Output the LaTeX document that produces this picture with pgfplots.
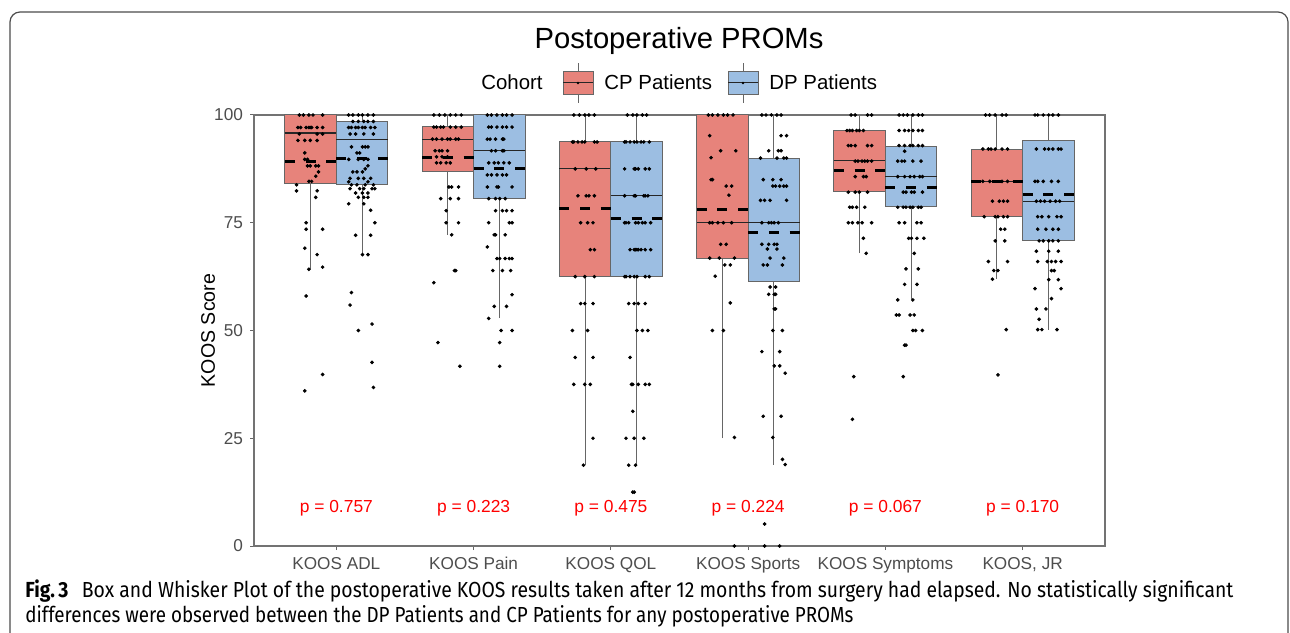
\documentclass[border=0pt]{standalone}
\usepackage{pgfplots}
\pgfplotsset{compat=1.18}
\usepgfplotslibrary{statistics}
\usepackage{fontspec}
\setmainfont{Liberation Sans}
\newfontfamily\capfont{Fira Sans}
\definecolor{cpcol}{RGB}{231,131,123}
\definecolor{dpcol}{RGB}{156,190,226}
\definecolor{tickgray}{RGB}{77,77,77}
\pgfplotsset{
  bx/.style n args={6}{boxplot prepared={draw position=#1, lower whisker=#2,
     lower quartile=#3, median=#4, upper quartile=#5, upper whisker=#6,
     box extend=0.375, whisker extend=0,
     every median/.style={draw=black!85, line width=0.6pt}}},
  meanline/.style={black, line width=1.5pt, dash pattern=on 5pt off 5.35pt, forget plot},
  dots/.style={only marks, mark=*, mark size=0.7pt, black, forget plot},
}
\begin{document}
\begin{tikzpicture}
\useasboundingbox (0,0) rectangle (645pt,316pt);
\draw[black!70, line width=0.6pt, rounded corners=5pt] (5pt,-10pt) rectangle (644pt,310pt);
% title
\node[anchor=base, inner sep=0] at (339.5pt,291.5pt) {\fontsize{14.6}{16}\selectfont Postoperative PROMs};
% legend
\node[anchor=base west, inner sep=0] at (240.5pt,271pt) {\fontsize{10.2}{12}\selectfont Cohort};
\draw[black!60, line width=0.5pt] (289pt,264.5pt) -- (289pt,284.5pt);
\draw[black!60, line width=0.5pt, fill=cpcol] (281.5pt,268.5pt) rectangle (296.5pt,280pt);
\draw[black!85, line width=0.5pt] (281.5pt,274.5pt) -- (296.5pt,274.5pt);
\fill (289pt,274.5pt) circle (0.7pt);
\node[anchor=base west, inner sep=0] at (302pt,271pt) {\fontsize{10.2}{12}\selectfont CP Patients};
\draw[black!60, line width=0.5pt] (371.5pt,264.5pt) -- (371.5pt,284.5pt);
\draw[black!60, line width=0.5pt, fill=dpcol] (364pt,268.5pt) rectangle (379pt,280pt);
\draw[black!85, line width=0.5pt] (364pt,274.5pt) -- (379pt,274.5pt);
\fill (371.5pt,274.5pt) circle (0.7pt);
\node[anchor=base west, inner sep=0] at (384.5pt,271pt) {\fontsize{10.2}{12}\selectfont DP Patients};
% caption
\node[anchor=base west, inner sep=0] at (12.5pt,17.5pt) {\resizebox{604pt}{\height}{\capfont\fontsize{10.9}{13}\selectfont\textbf{Fig.\,3}\hspace{0.7em}Box and Whisker Plot of the postoperative KOOS results taken after 12 months from surgery had elapsed. No statistically significant}};
\node[anchor=base west, inner sep=0] at (12.5pt,5pt) {\resizebox{414pt}{\height}{\capfont\fontsize{10.9}{13}\selectfont differences were observed between the DP Patients and CP Patients for any postoperative PROMs}};

\begin{axis}[
  at={(127pt,43pt)}, anchor=south west, scale only axis,
  width=425.5pt, height=215.5pt,
  xmin=0.4, xmax=6.6, ymin=0, ymax=100, clip=false,
  boxplot/draw direction=y,
  xtick={1,2,3,4,5,6},
  xticklabels={KOOS ADL, KOOS Pain, KOOS QOL, KOOS Sports, KOOS Symptoms, {KOOS, JR}},
  ytick={0,25,50,75,100},
  tick align=outside, tick pos=left, major tick length=2pt,
  tick style={black!60, line width=0.5pt},
  axis line style={black!55, line width=0.6pt},
  ticklabel style={font=\fontsize{8.6}{10}\selectfont, text=tickgray},
  /pgf/number format/assume math mode=true,
  ylabel={KOOS Score},
  ylabel style={font=\fontsize{9.8}{11}\selectfont, at={(axis description cs:-0.054,0.5)}, anchor=center},
]
% boxes
\addplot[fill=cpcol, draw=black!60, line width=0.5pt, bx={0.8125}{64.2}{84.0}{95.8}{100}{100}] coordinates {};
\addplot[fill=dpcol, draw=black!60, line width=0.5pt, bx={1.1875}{67.7}{83.8}{94.3}{98.5}{100}] coordinates {};
\addplot[fill=cpcol, draw=black!60, line width=0.5pt, bx={1.8125}{72.2}{86.9}{94.4}{97.3}{100}] coordinates {};
\addplot[fill=dpcol, draw=black!60, line width=0.5pt, bx={2.1875}{52.8}{80.6}{91.7}{100}{100}] coordinates {};
\addplot[fill=cpcol, draw=black!60, line width=0.5pt, bx={2.8125}{18.75}{62.5}{87.5}{93.75}{100}] coordinates {};
\addplot[fill=dpcol, draw=black!60, line width=0.5pt, bx={3.1875}{18.75}{62.5}{81.25}{93.75}{100}] coordinates {};
\addplot[fill=cpcol, draw=black!60, line width=0.5pt, bx={3.8125}{25}{66.8}{75}{100}{100}] coordinates {};
\addplot[fill=dpcol, draw=black!60, line width=0.5pt, bx={4.1875}{18.9}{61.4}{75}{90}{100}] coordinates {};
\addplot[fill=cpcol, draw=black!60, line width=0.5pt, bx={4.8125}{67.9}{82.2}{89.4}{96.4}{100}] coordinates {};
\addplot[fill=dpcol, draw=black!60, line width=0.5pt, bx={5.1875}{57.2}{78.7}{85.8}{92.8}{100}] coordinates {};
\addplot[fill=cpcol, draw=black!60, line width=0.5pt, bx={5.8125}{61.9}{76.4}{84.6}{92.1}{100}] coordinates {};
\addplot[fill=dpcol, draw=black!60, line width=0.5pt, bx={6.1875}{50.2}{70.8}{80.0}{94.0}{100}] coordinates {};
% means
\addplot[meanline] coordinates {(0.625,89.2) (1.0,89.2)};
\addplot[meanline] coordinates {(1.0,89.8) (1.375,89.8)};
\addplot[meanline] coordinates {(1.625,90.1) (2.0,90.1)};
\addplot[meanline] coordinates {(2.0,87.6) (2.375,87.6)};
\addplot[meanline] coordinates {(2.625,78.3) (3.0,78.3)};
\addplot[meanline] coordinates {(3.0,75.9) (3.375,75.9)};
\addplot[meanline] coordinates {(3.625,78.0) (4.0,78.0)};
\addplot[meanline] coordinates {(4.0,72.7) (4.375,72.7)};
\addplot[meanline] coordinates {(4.625,87.1) (5.0,87.1)};
\addplot[meanline] coordinates {(5.0,83.2) (5.375,83.2)};
\addplot[meanline] coordinates {(5.625,84.6) (6.0,84.6)};
\addplot[meanline] coordinates {(6.0,81.6) (6.375,81.6)};
% ADL CP
\addplot[dots] table {
x y
0.73 100
0.76 100
0.80 100
0.83 100
0.90 100
0.72 97.1
0.74 97.1
0.78 97.1
0.80 97.1
0.81 97.1
0.82 97.1
0.86 97.1
0.90 97.1
0.73 95.6
0.86 95.6
0.90 95.6
0.72 94.1
0.77 94.1
0.81 94.1
0.86 94.1
0.77 91.2
0.77 89.7
0.79 89.7
0.79 88.2
0.81 88.2
0.85 88.2
0.87 88.2
0.87 86.8
0.85 85.8
0.80 84.6
0.82 84.6
0.71 83.8
0.71 82.4
0.86 82.4
0.85 80.9
0.78 75.0
0.78 73.5
0.90 73.5
0.77 69.1
0.86 67.6
0.90 64.7
0.80 64.2
0.78 58.0
0.90 39.8
0.77 36.0
};
% ADL DP
\addplot[dots] table {
x y
1.09 100
1.12 100
1.16 100
1.19 100
1.23 100
1.27 100
1.12 98.5
1.16 98.5
1.20 98.5
1.23 98.5
1.27 98.5
1.09 97.1
1.11 97.1
1.14 97.1
1.16 97.1
1.19 97.1
1.21 97.1
1.25 97.1
1.28 97.1
1.10 95.6
1.14 95.6
1.20 95.6
1.27 95.6
1.11 92.6
1.19 92.6
1.21 92.6
1.23 92.6
1.15 91.2
1.17 91.2
1.09 89.7
1.16 89.7
1.20 89.7
1.23 89.7
1.23 88.2
1.21 87.5
1.12 86.8
1.15 86.8
1.19 86.8
1.10 85.3
1.16 85.3
1.20 85.3
1.25 85.3
1.09 84.5
1.23 84.5
1.11 83.8
1.15 83.8
1.21 83.8
1.27 83.8
1.10 82.9
1.17 82.9
1.20 82.9
1.26 82.9
1.28 82.9
1.14 81.9
1.19 81.9
1.23 81.9
1.16 80.9
1.20 80.9
1.23 80.9
1.09 79.4
1.20 79.4
1.25 77.9
1.28 75.0
1.14 72.1
1.25 72.1
1.19 67.6
1.23 67.6
1.11 58.8
1.10 55.9
1.26 51.5
1.16 50.0
1.26 42.6
1.27 36.8
};
% Pain CP
\addplot[dots] table {
x y
1.71 100
1.75 100
1.79 100
1.83 100
1.87 100
1.91 100
1.71 97.2
1.73 97.2
1.76 97.2
1.78 97.2
1.83 97.2
1.87 97.2
1.91 97.2
1.70 94.4
1.73 94.4
1.77 94.4
1.81 94.4
1.83 94.4
1.87 94.4
1.89 94.4
1.72 91.7
1.75 91.7
1.77 91.7
1.81 91.7
1.73 90.3
1.77 90.3
1.81 90.3
1.73 88.9
1.76 88.9
1.80 88.9
1.83 88.9
1.82 83.3
1.84 83.3
1.89 83.3
1.76 80.6
1.83 80.6
1.89 80.6
1.80 77.8
1.80 75.0
1.89 75.0
1.84 72.2
1.86 63.9
1.87 63.9
1.71 61.1
1.74 47.2
1.90 41.7
};
% Pain DP
\addplot[dots] table {
x y
2.10 100
2.13 100
2.17 100
2.21 100
2.24 100
2.28 100
2.11 97.2
2.13 97.2
2.17 97.2
2.21 97.2
2.24 97.2
2.28 97.2
2.10 94.4
2.12 94.4
2.16 94.4
2.21 94.4
2.22 94.4
2.13 91.7
2.16 91.7
2.21 91.7
2.22 91.7
2.11 88.9
2.15 88.9
2.18 88.9
2.22 88.9
2.26 88.9
2.10 86.1
2.13 86.1
2.17 86.1
2.21 86.1
2.24 86.1
2.10 83.3
2.17 83.3
2.18 83.3
2.28 83.3
2.11 80.6
2.16 80.6
2.19 80.6
2.23 80.6
2.16 77.8
2.21 77.8
2.24 77.8
2.28 77.8
2.11 75.0
2.26 75.0
2.28 75.0
2.15 72.2
2.16 72.2
2.23 72.2
2.10 69.4
2.17 66.7
2.19 66.7
2.23 66.7
2.26 66.7
2.28 66.7
2.14 63.9
2.21 63.9
2.27 63.9
2.28 58.3
2.15 55.6
2.24 55.6
2.11 52.8
2.20 50.0
2.28 50.0
2.19 47.2
2.19 41.7
};
% QOL CP
\addplot[dots] table {
x y
2.73 100
2.77 100
2.81 100
2.84 100
2.88 100
2.72 93.75
2.73 93.75
2.76 93.75
2.79 93.75
2.81 93.75
2.88 93.75
2.90 93.75
2.74 87.5
2.82 87.5
2.89 87.5
2.76 81.25
2.82 81.25
2.84 81.25
2.88 81.25
2.78 75
2.83 75
2.87 75
2.85 68.75
2.88 68.75
2.74 62.5
2.81 62.5
2.88 62.5
2.78 56.25
2.81 56.25
2.87 56.25
2.72 50
2.83 50
2.74 43.75
2.87 43.75
2.73 37.5
2.81 37.5
2.85 37.5
2.87 25
2.80 18.75
};
% QOL DP
\addplot[dots] table {
x y
3.12 100
3.16 100
3.19 100
3.23 100
3.26 100
3.10 93.75
3.11 93.75
3.14 93.75
3.17 93.75
3.19 93.75
3.22 93.75
3.24 93.75
3.28 93.75
3.10 87.5
3.17 87.5
3.18 87.5
3.20 87.5
3.25 87.5
3.28 87.5
3.10 81.25
3.17 81.25
3.18 81.25
3.24 81.25
3.25 81.25
3.27 81.25
3.10 75
3.11 75
3.13 75
3.18 75
3.20 75
3.23 75
3.25 75
3.29 75
3.14 68.75
3.17 68.75
3.18 68.75
3.19 68.75
3.20 68.75
3.22 68.75
3.25 68.75
3.29 68.75
3.10 62.5
3.11 62.5
3.14 62.5
3.17 62.5
3.19 62.5
3.25 62.5
3.28 62.5
3.13 56.25
3.17 56.25
3.20 56.25
3.25 56.25
3.19 50
3.23 50
3.27 50
3.14 43.75
3.15 37.5
3.16 37.5
3.20 37.5
3.25 37.5
3.28 37.5
3.16 31.25
3.11 25
3.17 25
3.24 25
3.13 18.75
3.18 18.75
3.16 12.5
3.17 12.5
};
% Sports CP
\addplot[dots] table {
x y
3.71 100
3.74 100
3.78 100
3.82 100
3.85 100
3.89 100
3.72 95.2
3.80 91.7
3.91 91.7
3.73 90.1
3.73 85.0
3.74 85.0
3.84 83.5
3.88 83.5
3.86 81.4
3.72 75
3.74 75
3.78 75
3.82 75
3.88 75
3.80 70
3.84 70
3.72 66.8
3.79 66.8
3.90 66.8
3.83 65.2
3.87 65.2
3.76 62.6
3.87 56.4
3.74 50
3.82 50
3.90 25.2
3.90 0
};
% Sports DP
\addplot[dots] table {
x y
4.10 100
4.13 100
4.17 100
4.21 100
4.24 100
4.24 95.2
4.28 95.2
4.15 91.7
4.22 91.7
4.24 91.7
4.09 90
4.21 90
4.26 90
4.28 90
4.11 85
4.18 85
4.24 85
4.18 83.5
4.20 83.5
4.23 83.5
4.26 83.5
4.28 83.5
4.09 80.2
4.12 80.2
4.16 80.2
4.28 80.2
4.10 75
4.15 75
4.17 75
4.19 75
4.22 75
4.10 70
4.15 70
4.19 70
4.21 70
4.14 68.9
4.21 68.9
4.16 66.8
4.26 66.8
4.11 65.2
4.14 65.2
4.25 65.2
4.16 60.1
4.20 60.1
4.15 58.4
4.19 58.4
4.20 58.4
4.19 55
4.20 55
4.18 50
4.25 50
4.10 45.1
4.23 45.1
4.19 41.8
4.23 41.8
4.27 40.1
4.11 30.1
4.24 30.1
4.18 25.2
4.25 20.1
4.27 18.9
4.12 5.1
4.12 0
4.23 0
};
% Symptoms CP
\addplot[dots] table {
x y
4.75 100
4.78 100
4.87 100
4.90 100
4.72 96.4
4.74 96.4
4.76 96.4
4.79 96.4
4.81 96.4
4.84 96.4
4.73 92.9
4.75 92.9
4.78 92.9
4.87 92.9
4.90 92.9
4.78 89.3
4.80 89.3
4.83 89.3
4.85 89.3
4.87 89.3
4.90 89.3
4.78 85.7
4.84 85.7
4.86 85.7
4.73 82.1
4.78 82.1
4.81 82.1
4.87 82.1
4.74 78.6
4.76 78.6
4.79 78.6
4.85 78.6
4.73 75
4.76 75
4.80 75
4.83 75
4.90 75
4.84 71.4
4.86 67.9
4.77 39.3
4.76 29.4
};
% Symptoms DP
\addplot[dots] table {
x y
5.10 100
5.13 100
5.16 100
5.20 100
5.24 100
5.27 100
5.10 96.4
5.14 96.4
5.17 96.4
5.20 96.4
5.24 96.4
5.27 96.4
5.10 92.9
5.14 92.9
5.18 92.9
5.20 92.9
5.24 92.9
5.27 92.9
5.14 91.6
5.09 89.3
5.12 89.3
5.14 89.3
5.20 89.3
5.26 89.3
5.09 85.7
5.14 85.7
5.18 85.7
5.21 85.7
5.25 85.7
5.27 85.7
5.13 82.1
5.15 82.1
5.19 82.1
5.21 82.1
5.27 82.1
5.09 78.6
5.13 78.6
5.15 78.6
5.18 78.6
5.20 78.6
5.24 78.6
5.26 78.6
5.10 75
5.14 75
5.23 75
5.26 75
5.17 71.4
5.19 71.4
5.23 71.4
5.28 71.4
5.21 67.9
5.15 64.3
5.24 64.3
5.14 60.7
5.23 60.7
5.09 57.1
5.20 57.1
5.08 53.6
5.10 53.6
5.18 53.6
5.21 53.6
5.20 50
5.22 50
5.27 50
5.14 46.6
5.15 46.6
5.13 39.3
};
% JR CP
\addplot[dots] table {
x y
5.73 100
5.76 100
5.80 100
5.85 100
5.88 100
5.71 92.1
5.75 92.1
5.77 92.1
5.80 92.1
5.85 92.1
5.89 92.1
5.71 84.6
5.76 84.6
5.85 84.6
5.89 84.6
5.78 80.0
5.83 80.0
5.86 80.0
5.89 80.0
5.72 76.4
5.80 76.4
5.82 76.4
5.86 76.4
5.89 76.4
5.84 73.5
5.87 73.5
5.80 70.8
5.87 70.8
5.75 66.0
5.89 66.0
5.79 63.9
5.82 63.9
5.78 61.9
5.88 50.2
5.82 39.7
};
% JR DP
\addplot[dots] table {
x y
6.09 100
6.11 100
6.15 100
6.19 100
6.22 100
6.26 100
6.10 92.1
6.16 92.1
6.19 92.1
6.22 92.1
6.26 92.1
6.28 92.1
6.09 84.6
6.11 84.6
6.15 84.6
6.21 84.6
6.26 84.6
6.10 80.0
6.13 80.0
6.16 80.0
6.20 80.0
6.24 80.0
6.27 80.0
6.11 76.4
6.14 76.4
6.19 76.4
6.25 76.4
6.28 76.4
6.11 73.5
6.17 73.5
6.22 73.5
6.26 73.5
6.12 70.8
6.15 70.8
6.19 70.8
6.22 70.8
6.26 70.8
6.10 68.4
6.19 68.4
6.26 68.4
6.11 66.0
6.18 66.0
6.21 66.0
6.24 66.0
6.28 66.0
6.21 63.9
6.23 63.9
6.19 61.8
6.26 61.8
6.09 59.7
6.28 59.7
6.21 57.4
6.10 55.0
6.17 55.0
6.12 52.6
6.11 50.2
6.14 50.2
6.25 50.2
};
% p-values
\node[text=red, font=\fontsize{8.7}{10}\selectfont] at (axis cs:1,8.8) {p = 0.757};
\node[text=red, font=\fontsize{8.7}{10}\selectfont] at (axis cs:2,8.8) {p = 0.223};
\node[text=red, font=\fontsize{8.7}{10}\selectfont] at (axis cs:3,8.8) {p = 0.475};
\node[text=red, font=\fontsize{8.7}{10}\selectfont] at (axis cs:4,8.8) {p = 0.224};
\node[text=red, font=\fontsize{8.7}{10}\selectfont] at (axis cs:5,8.8) {p = 0.067};
\node[text=red, font=\fontsize{8.7}{10}\selectfont] at (axis cs:6,8.8) {p = 0.170};
\end{axis}
\end{tikzpicture}
\end{document}
